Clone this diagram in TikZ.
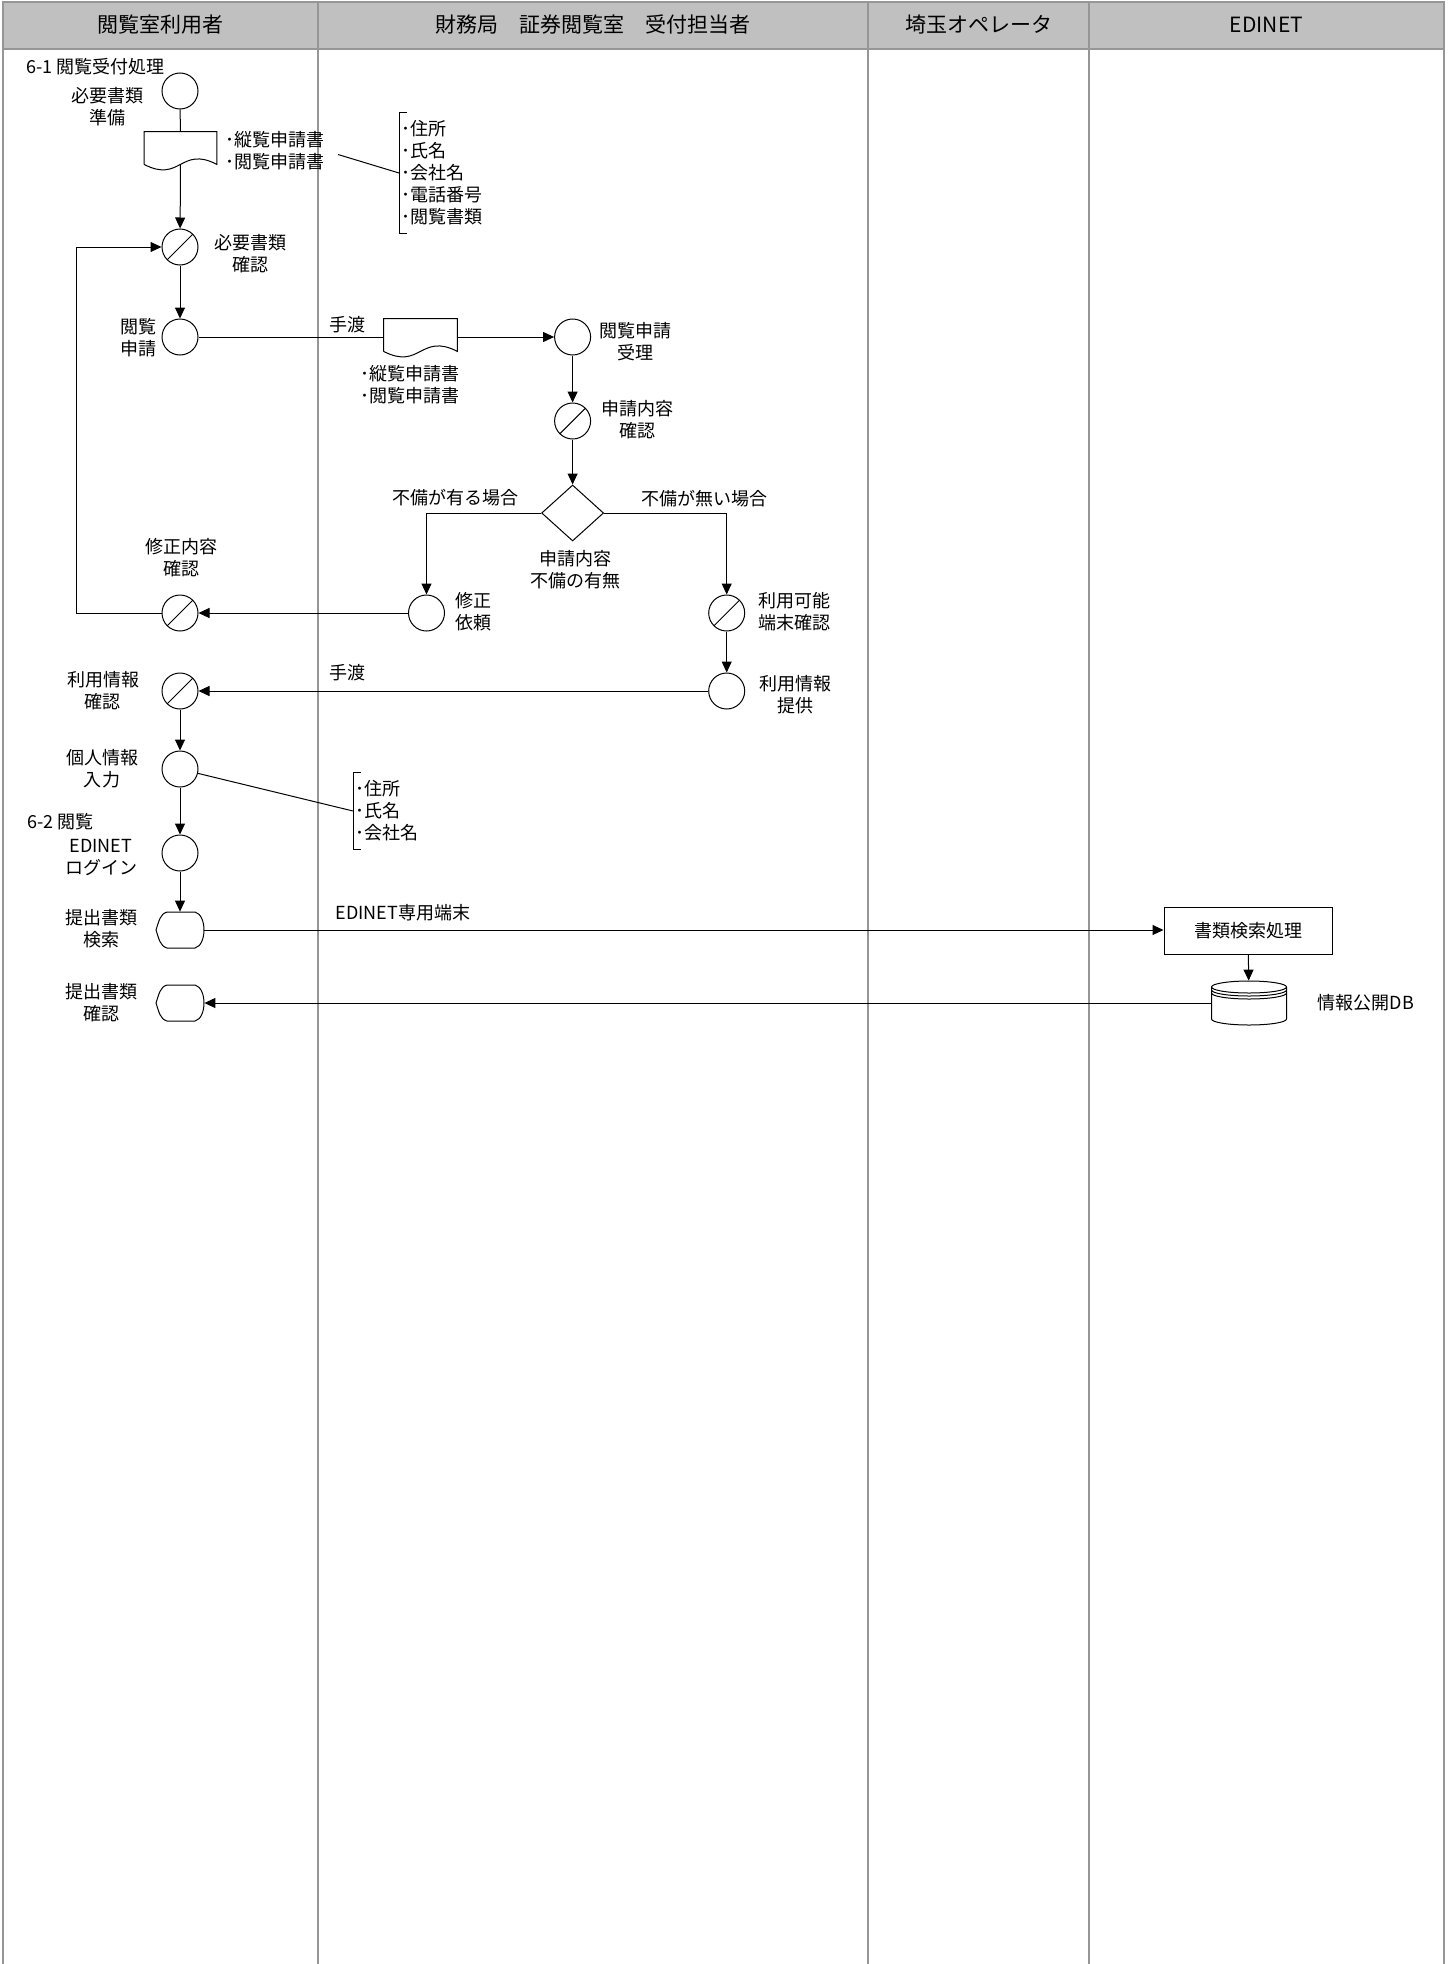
\documentclass[tikz,border=0pt]{standalone}
\usepackage{fontspec}
\setmainfont{Noto Sans CJK JP}
\usetikzlibrary{shapes.geometric}
\usetikzlibrary{arrows.meta}
\usetikzlibrary{calc}
\definecolor{headgray}{RGB}{192,192,192}
\definecolor{lanegray}{RGB}{150,150,150}

\tikzset{
	every node/.style={font=\fontsize{9}{11}\selectfont},
	lbl/.style={align=center, inner sep=0pt},
	ln/.style={line width=0.5pt},
	arr/.style={line width=0.5pt, -{Triangle[length=5.5pt,width=5pt]}},
	proc/.style={circle, draw, line width=0.5pt, minimum size=18pt, inner sep=0pt},
	chk/.style={proc, path picture={\draw[line width=0.5pt] (path picture bounding box.south west) -- (path picture bounding box.north east);}},
	doc/.style={inner sep=0pt, minimum width=36pt, minimum height=16pt},
	disp/.style={inner sep=0pt, minimum width=24pt, minimum height=18pt},
	dbase/.style={inner sep=0pt, minimum width=37.5pt, minimum height=22pt},
	note/.style={align=left, anchor=west, inner xsep=1.25pt, inner ysep=4pt}
}

\newcommand{\lane}[4] % node name, left x, right x, title
{
	% header band
	\filldraw[fill=headgray, draw=lanegray, line width=0.75pt] (#2,2) rectangle (#3,49);
	% lane borders
	\draw[lanegray, line width=0.75pt] (#2,49) -- (#2,1964);
	\draw[lanegray, line width=0.75pt] (#3,49) -- (#3,1964);
	% title
	\node[font=\fontsize{10.5}{12}\selectfont] (#1) at ({(#2+#3)/2},25) {#4};
}

\newcommand{\docshape}[1] % node name
{
	% box with wavy bottom
	\draw[ln] (#1.south west) -- (#1.north west) -- (#1.north east) -- (#1.south east)
		.. controls ($(#1.south)+(0,-19)$) and ($(#1.south)+(0,19)$) .. (#1.south west);
}

\newcommand{\dispshape}[1] % node name
{
	% pointed left, round right
	\draw[ln] ($(#1)+(-24,0)$) .. controls +(3,-9) and +(-7,2) .. ($(#1)+(-13,-18)$)
		-- ($(#1)+(15,-18)$) .. controls +(12,3) and +(12,-3) .. ($(#1)+(15,18)$)
		-- ($(#1)+(-13,18)$) .. controls +(-7,-2) and +(3,9) .. ($(#1)+(-24,0)$);
}

\newcommand{\dbshape}[1] % node name
{
	% cylinder
	\draw[ln] ($(#1)+(-37.5,-16)$) -- ($(#1)+(-37.5,16)$)
		arc[start angle=180, end angle=360, x radius=18.75pt, y radius=3pt] -- ($(#1)+(37.5,-16)$);
	\draw[ln] ($(#1)+(0,-16)$) ellipse [x radius=18.75pt, y radius=3pt];
	% rings under the lid
	\draw[ln] ($(#1)+(-37.5,-13)$) arc[start angle=180, end angle=360, x radius=18.75pt, y radius=3pt];
	\draw[ln] ($(#1)+(-37.5,-10)$) arc[start angle=180, end angle=360, x radius=18.75pt, y radius=3pt];
}

\begin{document}
\begin{tikzpicture}[x=0.5pt, y=-0.5pt]
	% page: 1454 x 1964, y runs downward
	\useasboundingbox (0,0) rectangle (1454,1964);
	
	\lane{hUser}{3}{318}{閲覧室利用者};
	\lane{hDesk}{318}{868}{財務局　証券閲覧室　受付担当者};
	\lane{hOper}{868}{1089}{埼玉オペレータ};
	\lane{hEdinet}{1089}{1444}{EDINET};
	
	% 6-1 reception
	\node[lbl, anchor=west] (t61) at (26,67) {6-1 閲覧受付処理};
	
	\node[proc] (c1) at (180,91) {};
	\node[lbl] (c1t) at (107,107) {必要書類\\準備};
	
	\node[doc] (doc1) at (180.5,148) {};
	\docshape{doc1};
	\node[lbl, align=left, anchor=west] (doc1t) at (225,150.5) {･縦覧申請書\\･閲覧申請書};
	\node[note] (note1) at (399,173) {･住所\\･氏名\\･会社名\\･電話番号\\･閲覧書類};
	\draw[ln] ($(note1.north west)+(8,0)$) -- (note1.north west) -- (note1.south west) -- ++(8,0);
	
	\node[chk] (c2) at (180,247) {};
	\node[lbl] (c2t) at (250,253.5) {必要書類\\確認};
	
	\node[proc] (c3) at (180,337) {};
	\node[lbl] (c3t) at (138,338) {閲覧\\申請};
	\node[lbl] (hand1) at (347,325) {手渡};
	
	\node[doc, minimum width=36.5pt] (doc2) at (420.5,335) {};
	\docshape{doc2};
	\node[lbl, align=left, anchor=west] (doc2t) at (360,384.5) {･縦覧申請書\\･閲覧申請書};
	
	\node[proc] (c4) at (572.6,337) {};
	\node[lbl] (c4t) at (635,342) {閲覧申請\\受理};
	
	\node[chk] (c5) at (572.6,421) {};
	\node[lbl] (c5t) at (637,419.5) {申請内容\\確認};
	
	\node[diamond, draw, line width=0.5pt, inner sep=0pt, minimum width=31pt, minimum height=28pt] (dia) at (572.6,513) {};
	\node[lbl] (diat) at (575,569.5) {申請内容\\不備の有無};
	\node[lbl] (ngt) at (455,498) {不備が有る場合};
	\node[lbl] (okt) at (704,499) {不備が無い場合};
	
	\node[proc] (c6) at (426.5,613) {};
	\node[lbl] (c6t) at (473,612) {修正\\依頼};
	
	\node[chk] (c7) at (180,613) {};
	\node[lbl] (c7t) at (181,557.5) {修正内容\\確認};
	\coordinate (back) at (76,613);
	
	\node[chk] (c8) at (726.7,613) {};
	\node[lbl] (c8t) at (794,612) {利用可能\\端末確認};
	
	\node[proc] (c9) at (726.7,691) {};
	\node[lbl] (c9t) at (795,694.5) {利用情報\\提供};
	\node[lbl] (hand2) at (347,673) {手渡};
	
	\node[chk] (c10) at (180,691) {};
	\node[lbl] (c10t) at (103,691) {利用情報\\確認};
	
	\node[proc] (c11) at (180,769) {};
	\node[lbl] (c11t) at (102,768.5) {個人情報\\入力};
	\node[note] (note2) at (353,811) {･住所\\･氏名\\･会社名};
	\draw[ln] ($(note2.north west)+(8,0)$) -- (note2.north west) -- (note2.south west) -- ++(8,0);
	
	% 6-2 browsing
	\node[lbl, anchor=west] (t62) at (27,822) {6-2 閲覧};
	
	\node[proc] (c12) at (180,853) {};
	\node[lbl] (c12t) at (101,857.5) {EDINET\\ログイン};
	
	\node[disp] (d1) at (180,930) {};
	\dispshape{d1};
	\node[lbl] (d1t) at (101,929) {提出書類\\検索};
	\node[lbl, anchor=west] (term) at (335,913) {EDINET専用端末};
	
	\node[disp] (d2) at (180,1003) {};
	\dispshape{d2};
	\node[lbl] (d2t) at (101,1002.5) {提出書類\\確認};
	
	\node[draw, line width=0.5pt, minimum width=84pt, minimum height=23.5pt] (box) at (1248,930.5) {書類検索処理};
	\node[dbase] (db) at (1249,1003) {};
	\dbshape{db};
	\node[lbl] (dbt) at (1366,1003) {情報公開DB};
	
	% flow
	\draw[ln] (c1) -- (doc1);
	\draw[ln, shorten >=7pt] (note1.west) -- (doc1t.east);
	\draw[arr] (doc1.south) -- (c2);
	\draw[arr] (c2) -- (c3);
	\draw[ln] (c3) -- (c3 -| doc2.west);
	\draw[arr] (c4 -| doc2.east) -- (c4);
	\draw[arr] (c4) -- (c5);
	\draw[arr] (c5) -- (dia);
	\draw[arr] (dia.west) -| (c6);
	\draw[arr] (dia.east) -| (c8);
	\draw[arr] (c6) -- (c7);
	\draw[arr] (c7) -- (back) |- (c2);
	\draw[arr] (c8) -- (c9);
	\draw[arr] (c9) -- (c10);
	\draw[arr] (c10) -- (c11);
	\draw[ln] (c11) -- (note2.west);
	\draw[arr] (c11) -- (c12);
	\draw[arr] (c12) -- (d1);
	\draw[arr] (d1.east) -- (d1.east -| box.west);
	\draw[arr] (box) -- (db);
	\draw[arr] (db.west) -- (d2.east);
\end{tikzpicture}
\end{document}
